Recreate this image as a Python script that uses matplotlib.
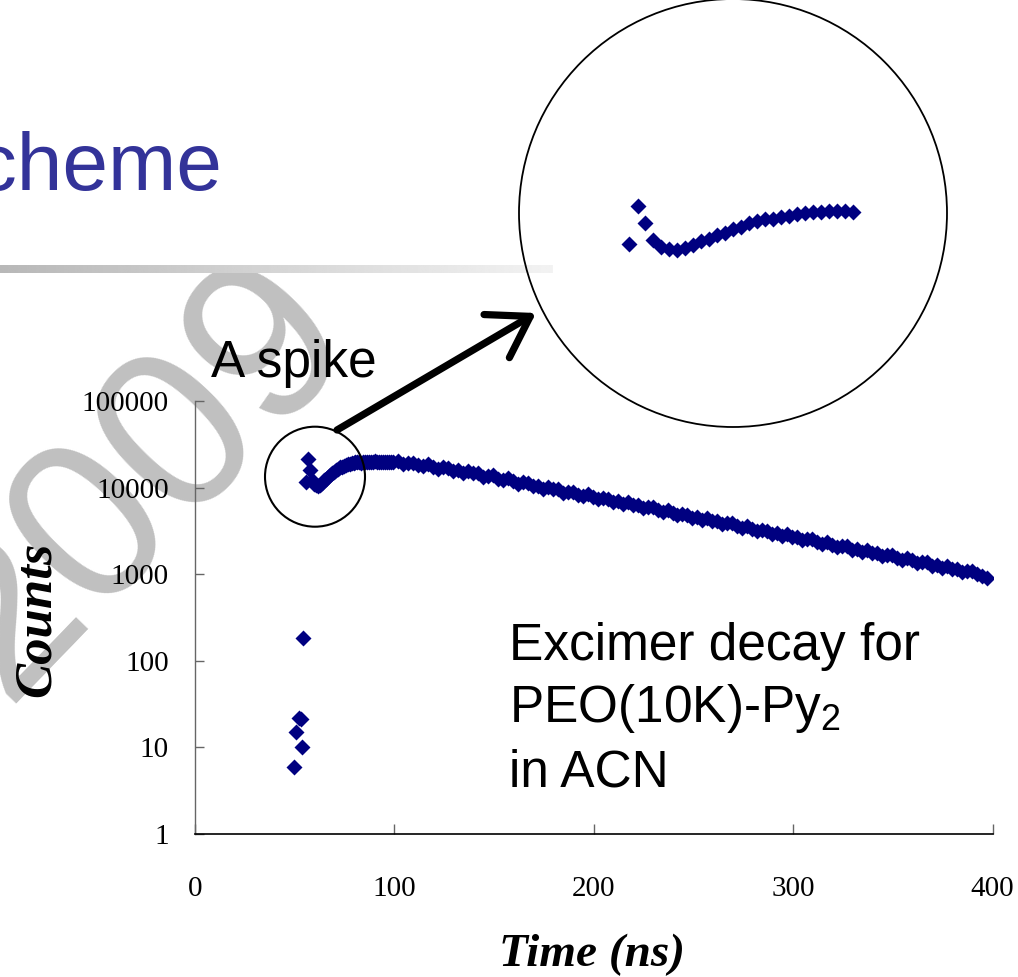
import numpy as np
import matplotlib.pyplot as plt
from matplotlib.patches import Circle, FancyArrowPatch
from matplotlib.ticker import NullLocator

W, H, DPI = 1018, 977, 100

# stray counts before the excitation pulse
early_t = [49.5, 50.5, 52.0, 53.0, 53.7, 54.2]
early_counts = [6, 15, 22, 21, 10, 185]

# the spike on the rising edge
spike_t = [55.5, 56.6, 57.5]
spike_counts = [11500, 21200, 16000]

# rise to the maximum, 1 ns channels
rise_t = np.arange(58.5, 100, 1.0)
rise_counts = [
    12300, 11000, 10600, 10400, 10800, 11300, 12100, 12500, 13400, 13800,
    14700, 15200, 16100, 16600, 17200, 17200, 17800, 18000, 18600, 18800,
    19300, 19400, 19700, 19500, 19600, 19400, 19700, 19500, 20000, 19600,
    19900, 19700, 20100, 19600, 19800, 20000, 19700, 19900, 19600, 19800,
    19500, 19700,
]

# excimer decay, 2.5 ns channels
decay_t = np.arange(102, 398, 2.5)
decay_counts = [
    20100, 18500, 19200, 19400, 18000, 17600, 18500, 17500,
    16400, 17100, 16900, 15600, 15900, 14800, 15600, 14600,
    14800, 13400, 13700, 13800, 12700, 12200, 12800, 12000,
    11100, 11500, 11300, 10400, 10500, 9700, 10250, 9520,
    9630, 8760, 8960, 9000, 8260, 7970, 8360, 7850,
    7340, 7600, 7470, 6850, 6950, 6430, 6780, 6290,
    6370, 5780, 5920, 5940, 5450, 5260, 5480, 5140,
    4800, 4970, 4880, 4480, 4550, 4200, 4430, 4110,
    4160, 3780, 3870, 3880, 3570, 3430, 3590, 3360,
    3140, 3240, 3190, 2930, 2970, 2750, 2900, 2690,
    2720, 2480, 2540, 2540, 2330, 2250, 2340, 2200,
    2050, 2120, 2090, 1910, 1940, 1800, 1890, 1760,
    1780, 1610, 1660, 1660, 1520, 1460, 1530, 1440,
    1340, 1390, 1370, 1250, 1270, 1170, 1240, 1150,
    1160, 1060, 1080, 1080, 1000, 960, 910,
]

xtick_vals = [0, 100, 200, 300, 400]
ytick_vals = [1, 10, 100, 1000, 10000, 100000]
ytick_labels = ["1", "10", "100", "1000", "10000", "100000"]

t_all = np.concatenate([early_t, spike_t, rise_t, decay_t])
c_all = np.concatenate([early_counts, spike_counts, rise_counts, decay_counts])

NAVY = "#000080"
SLIDE_FONT = "Liberation Sans"
SERIF = "Liberation Serif"
plt.rcParams["mathtext.fontset"] = "custom"
plt.rcParams["mathtext.rm"] = SLIDE_FONT
plt.rcParams["mathtext.it"] = SLIDE_FONT + ":italic"

fig = plt.figure(figsize=(W / DPI, H / DPI), dpi=DPI)
fig.patch.set_facecolor("white")

# watermark behind everything
fig.text(138 / W, 1 - 480 / H, "2009", rotation=46, rotation_mode="anchor",
         ha="center", va="center", fontsize=164, color="#c0c0c0",
         family=SLIDE_FONT, zorder=-10)

# slide title (cut at the left edge) and the grey rule under it
fig.text(222 / W, 1 - 190 / H, "Scheme", ha="right", va="baseline",
         fontsize=59, color="#333399", family=SLIDE_FONT)
bar = fig.add_axes([0, 1 - 273 / H, 553 / W, 8 / H])
bar.imshow(np.linspace(0.72, 0.95, 256)[None, :], cmap="gray", vmin=0, vmax=1,
           aspect="auto", interpolation="bilinear")
bar.axis("off")

# main decay plot
ax = fig.add_axes([195 / W, 1 - 834 / H, (992.5 - 195) / W, (834 - 401) / H])
ax.patch.set_visible(False)
ax.plot(t_all, c_all, ls="none", marker="D", ms=8, color=NAVY, mec="none")
ax.set_yscale("log")
ax.set_xlim(0, 400)
ax.set_ylim(1, 1e5)
ax.set_xticks(xtick_vals, labels=[str(v) for v in xtick_vals])
ax.set_yticks(ytick_vals, labels=ytick_labels)
ax.yaxis.set_minor_locator(NullLocator())
for s in ["top", "right"]:
    ax.spines[s].set_visible(False)
ax.spines["left"].set_color("#666666")
ax.spines["left"].set_linewidth(1.0)
ax.spines["bottom"].set_color("black")
ax.spines["bottom"].set_linewidth(1.2)
ax.tick_params(axis="y", direction="in", length=6.5, width=1, color="#666666",
               pad=19, labelsize=21, labelfontfamily=SERIF)
ax.tick_params(axis="x", direction="in", length=7, width=1, color="#666666",
               pad=30, labelsize=21, labelfontfamily=SERIF)
ax.set_xlabel("Time (ns)", fontsize=34, fontweight="bold", fontstyle="italic",
              family=SERIF)
ax.xaxis.set_label_coords(0.4975, -(934 - 834) / 433)
ax.set_ylabel("Counts", fontsize=38, fontweight="bold", fontstyle="italic",
              family=SERIF)
ax.yaxis.set_label_coords((36.5 - 195) / 797.5, 0.495)
ax.yaxis.label.set_va("center")

# circle round the spike, arrow, and the magnified view
fig.add_artist(Circle((315 / DPI, (H - 476.7) / DPI), 50 / DPI,
                      transform=fig.dpi_scale_trans, fill=False, lw=1.5, ec="black"))
fig.add_artist(Circle((733 / DPI, (H - 213) / DPI), 214 / DPI,
                      transform=fig.dpi_scale_trans, fill=False, lw=1.3, ec="black"))
fig.add_artist(FancyArrowPatch((337 / DPI, (H - 430) / DPI), (536 / DPI, (H - 313) / DPI),
                               transform=fig.dpi_scale_trans,
                               arrowstyle="->,head_length=2.8,head_width=1.8",
                               mutation_scale=10, lw=5.2, color="black",
                               shrinkA=0, shrinkB=0))

ins = fig.add_axes([519 / W, 1 - 428 / H, 428 / W, 428 / H])
ins.set_yscale("log")
ins.set_xlim(41.75, 95.25)
ins.set_ylim(10 ** 2.774, 10 ** 5.767)
sel = t_all <= 84
ins.plot(t_all[sel], c_all[sel], ls="none", marker="D", ms=8, color=NAVY, mec="none")
ins.axis("off")

# annotations
fig.text(211 / W, 1 - 376.7 / H, "A spike", ha="left", va="baseline",
         fontsize=37, family=SLIDE_FONT)
fig.text(509 / W, 1 - 660 / H, "Excimer decay for", ha="left", va="baseline",
         fontsize=37, family=SLIDE_FONT)
fig.text(509 / W, 1 - 721.7 / H, "PEO(10K)-Py$_2$", ha="left", va="baseline",
         fontsize=37, family=SLIDE_FONT)
fig.text(509 / W, 1 - 786.7 / H, "in ACN", ha="left", va="baseline",
         fontsize=37, family=SLIDE_FONT)

fig.savefig("out.png", dpi=DPI, facecolor="white")
